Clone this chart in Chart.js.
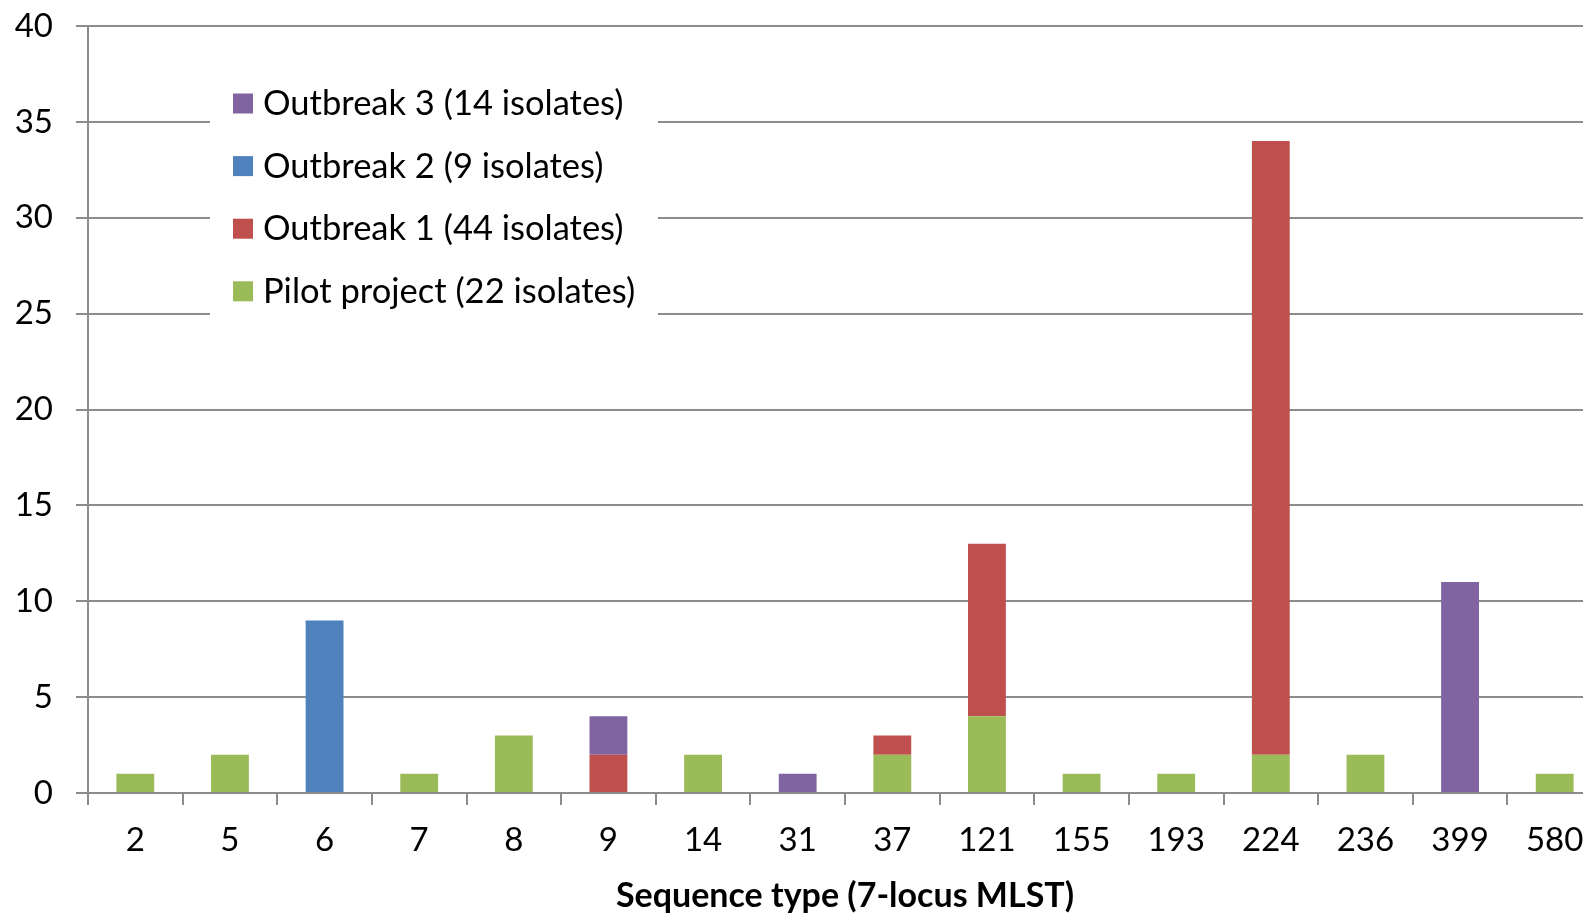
<!DOCTYPE html>
<html>
<head>
<meta charset="utf-8">
<script src="https://cdn.jsdelivr.net/npm/chart.js@4/dist/chart.umd.min.js"></script>
<style>
  html, body { margin: 0; padding: 0; background: #fff; overflow: hidden; }
  #wrap { width: 1583px; height: 913px; overflow: hidden; position: relative; }
  canvas { display: block; }
</style>
</head>
<body>
<div id="wrap"><canvas id="c" width="1602" height="913" style="width:1602px;height:913px"></canvas></div>
<script>
// Sequence types (7-locus MLST)
const sequenceTypes = ['2', '5', '6', '7', '8', '9', '14', '31', '37', '121', '155', '193', '224', '236', '399', '580'];

// Isolate counts per sequence type, one array per collection
const pilotProject = [1, 2, 0, 1, 3, 0, 2, 0, 2, 4, 1, 1, 2, 2, 0, 1];
const outbreak1    = [0, 0, 0, 0, 0, 2, 0, 0, 1, 9, 0, 0, 32, 0, 0, 0];
const outbreak2    = [0, 0, 9, 0, 0, 0, 0, 0, 0, 0, 0, 0, 0, 0, 0, 0];
const outbreak3    = [0, 0, 0, 0, 0, 2, 0, 1, 0, 0, 0, 0, 0, 0, 11, 0];

const seriesNames = ['Pilot project (22 isolates)', 'Outbreak 1 (44 isolates)', 'Outbreak 2 (9 isolates)', 'Outbreak 3 (14 isolates)'];
const seriesColors = ['#9BBB59', '#C0504D', '#4F81BD', '#8064A2'];

const FONT = 'Lato, "Open Sans", sans-serif';
const GRID = '#8c8c8c';

// Legend box drawn inside the plot area, series listed top-down in reverse stack order
const insideLegend = {
  id: 'insideLegend',
  afterDraw(chart) {
    const ctx = chart.ctx;
    ctx.save();
    ctx.fillStyle = '#fff';
    ctx.fillRect(210, 72, 448, 256);
    const ds = chart.data.datasets.slice().reverse();
    ctx.font = '34.5px ' + FONT;
    ctx.textBaseline = 'middle';
    ctx.textAlign = 'left';
    ds.forEach((d, i) => {
      const cy = 103 + i * 62.6;
      ctx.fillStyle = d.backgroundColor;
      ctx.fillRect(233, cy - 9.5, 20, 20);
      ctx.fillStyle = '#000';
      ctx.fillText(d.label, 263, cy + 1);
    });
    ctx.restore();
  }
};

const seriesData = [pilotProject, outbreak1, outbreak2, outbreak3];

new Chart(document.getElementById('c'), {
  type: 'bar',
  data: {
    labels: sequenceTypes,
    datasets: seriesData.map((vals, i) => ({
      label: seriesNames[i],
      data: vals,
      backgroundColor: seriesColors[i],
      borderWidth: 0,
      barPercentage: 0.4,
      categoryPercentage: 1.0
    }))
  },
  options: {
    responsive: false,
    animation: false,
    devicePixelRatio: 1,
    layout: { padding: { top: 26, right: 0, left: 0, bottom: 0 } },
    plugins: {
      legend: { display: false },
      tooltip: { enabled: false }
    },
    scales: {
      x: {
        stacked: true,
        grid: {
          display: true,
          drawOnChartArea: false,
          drawTicks: true,
          tickLength: 12,
          color: GRID,
          lineWidth: 2,
          offset: true
        },
        border: { display: true, color: GRID, width: 2 },
        ticks: {
          color: '#000',
          font: { family: FONT, size: 33 },
          padding: 16,
          maxRotation: 0,
          autoSkip: false
        },
        title: {
          display: true,
          text: 'Sequence type (7-locus MLST)',
          color: '#000',
          font: { family: FONT, size: 34, weight: 'bold' },
          padding: { top: 0, bottom: -3 }
        },
        afterFit(scale) {
          scale.height = 120;
          scale.paddingLeft = 0;
          scale.paddingRight = 0;
        }
      },
      y: {
        stacked: true,
        min: 0,
        max: 40,
        grid: {
          color: GRID,
          lineWidth: 2,
          tickLength: 12,
          drawTicks: true
        },
        border: { display: true, color: GRID, width: 2 },
        ticks: {
          stepSize: 5,
          color: '#000',
          font: { family: FONT, size: 33 },
          padding: 23
        },
        afterFit(scale) {
          scale.width = 88;
          scale.paddingTop = 0;
          scale.paddingBottom = 0;
        }
      }
    }
  },
  plugins: [insideLegend]
});
</script>
</body>
</html>
